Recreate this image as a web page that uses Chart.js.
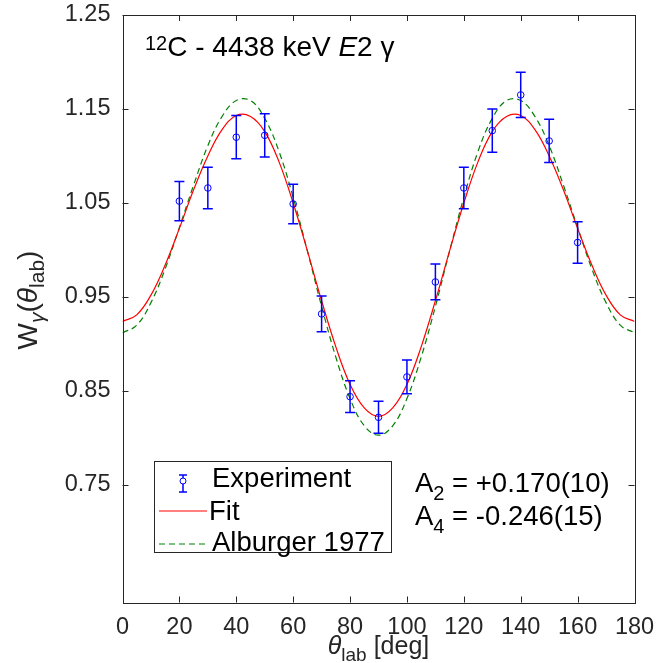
<!DOCTYPE html>
<html>
<head>
<meta charset="utf-8">
<script src="https://cdn.jsdelivr.net/npm/chart.js@4"></script>
<style>
  html, body { margin: 0; padding: 0; background: #fff; }
  #c { display: block; }
</style>
</head>
<body>
<canvas id="c" width="672" height="663"></canvas>
<script>
// dados
const curveTheta = [0, 5, 10, 15, 20, 25, 30, 35, 40, 45, 50, 55, 60, 65, 70, 75, 80, 85, 90,
  95, 100, 105, 110, 115, 120, 125, 130, 135, 140, 145, 150, 155, 160, 165, 170, 175, 180];
const fitW = [0.924, 0.931, 0.952, 0.984, 1.023, 1.064, 1.100, 1.128, 1.143, 1.142, 1.126, 1.094, 1.050,
  0.999, 0.946, 0.897, 0.857, 0.832, 0.823, 0.832, 0.857, 0.897, 0.946, 0.999, 1.050, 1.094, 1.126,
  1.142, 1.143, 1.128, 1.100, 1.064, 1.023, 0.984, 0.952, 0.931, 0.924];
const alburgerW = [0.912, 0.920, 0.944, 0.980, 1.024, 1.069, 1.111, 1.142, 1.159, 1.159, 1.140, 1.105, 1.056,
  0.999, 0.940, 0.886, 0.842, 0.813, 0.803, 0.813, 0.842, 0.886, 0.940, 0.999, 1.056, 1.105, 1.140,
  1.159, 1.159, 1.142, 1.111, 1.069, 1.024, 0.980, 0.944, 0.920, 0.912];

const expTheta = [20, 30, 40, 50, 60, 70, 80, 90, 100, 110, 120, 130, 140, 150, 160];
const expW = [1.052, 1.066, 1.120, 1.122, 1.049, 0.932, 0.844, 0.822, 0.865, 0.966, 1.066, 1.127, 1.165, 1.116, 1.008];
const expErr = [0.021, 0.022, 0.023, 0.023, 0.021, 0.019, 0.017, 0.017, 0.018, 0.019, 0.022, 0.023, 0.024, 0.023, 0.022];

const xTicks = [0, 20, 40, 60, 80, 100, 120, 140, 160, 180];
const yTicks = [0.75, 0.85, 0.95, 1.05, 1.15, 1.25];

const FONT = '"Liberation Sans", Arial, Helvetica, sans-serif';
const AXIS_COLOR = '#262626';

function toPoints(xs, ys) {
  return xs.map((x, i) => ({ x: x, y: ys[i] }));
}

// texto com sub/sobrescritos: partes {t, size, dy, italic}
function richWidth(ctx, parts) {
  let w = 0;
  parts.forEach(p => {
    ctx.font = (p.italic ? 'italic ' : '') + p.size + 'px ' + FONT;
    w += ctx.measureText(p.t).width;
  });
  return w;
}
function drawRich(ctx, x, y, parts, align) {
  let cx = x;
  if (align === 'center') cx = x - richWidth(ctx, parts) / 2;
  ctx.textBaseline = 'alphabetic';
  ctx.textAlign = 'left';
  parts.forEach(p => {
    ctx.font = (p.italic ? 'italic ' : '') + p.size + 'px ' + FONT;
    ctx.fillText(p.t, cx, y + (p.dy || 0));
    cx += ctx.measureText(p.t).width;
  });
}

// barras de erro, moldura, rótulos e legenda
const decorPlugin = {
  id: 'decor',
  afterDatasetsDraw(chart) {
    const ctx = chart.ctx;
    const xs = chart.scales.x, ys = chart.scales.y;
    ctx.save();
    ctx.strokeStyle = '#0000ff';
    ctx.lineWidth = 1.5;
    expTheta.forEach((t, i) => {
      const px = xs.getPixelForValue(t);
      const top = ys.getPixelForValue(expW[i] + expErr[i]);
      const bot = ys.getPixelForValue(expW[i] - expErr[i]);
      ctx.beginPath();
      ctx.moveTo(px, top); ctx.lineTo(px, bot);
      ctx.moveTo(px - 5, top); ctx.lineTo(px + 5, top);
      ctx.moveTo(px - 5, bot); ctx.lineTo(px + 5, bot);
      ctx.stroke();
    });
    ctx.restore();
  },
  afterDraw(chart) {
    const ctx = chart.ctx;
    const a = chart.chartArea;
    const xs = chart.scales.x, ys = chart.scales.y;
    ctx.save();

    // moldura com ticks para dentro
    ctx.strokeStyle = AXIS_COLOR;
    ctx.lineWidth = 1;
    ctx.strokeRect(Math.round(a.left) + 0.5, Math.round(a.top) + 0.5,
      Math.round(a.right - a.left), Math.round(a.bottom - a.top));
    const tl = 6;
    ctx.beginPath();
    xTicks.forEach(v => {
      const px = Math.round(xs.getPixelForValue(v)) + 0.5;
      ctx.moveTo(px, a.bottom); ctx.lineTo(px, a.bottom - tl);
      ctx.moveTo(px, a.top); ctx.lineTo(px, a.top + tl);
    });
    yTicks.forEach(v => {
      const py = Math.round(ys.getPixelForValue(v)) + 0.5;
      ctx.moveTo(a.left, py); ctx.lineTo(a.left + tl, py);
      ctx.moveTo(a.right, py); ctx.lineTo(a.right - tl, py);
    });
    ctx.stroke();

    ctx.fillStyle = AXIS_COLOR;
    // título do eixo x
    drawRich(ctx, (a.left + a.right) / 2, 654, [
      { t: 'θ', size: 25, italic: true },
      { t: 'lab', size: 19, dy: 7 },
      { t: ' [deg]', size: 25 }
    ], 'center');

    // título do eixo y (rotacionado)
    ctx.save();
    ctx.translate(37, 300);
    ctx.rotate(-Math.PI / 2);
    drawRich(ctx, 0, 0, [
      { t: 'W', size: 28 },
      { t: 'γ', size: 21, italic: true, dy: 7 },
      { t: '(', size: 28 },
      { t: 'θ', size: 28, italic: true },
      { t: 'lab', size: 21, dy: 7 },
      { t: ')', size: 28 }
    ], 'center');
    ctx.restore();

    ctx.fillStyle = '#000';
    // anotações
    drawRich(ctx, 145, 56, [
      { t: '12', size: 20, dy: -6 },
      { t: 'C - 4438 keV ', size: 28 },
      { t: 'E', size: 28, italic: true },
      { t: '2 γ', size: 28 }
    ]);
    drawRich(ctx, 415, 492, [
      { t: 'A', size: 27.5 },
      { t: '2', size: 20, dy: 8 },
      { t: ' = +0.170(10)', size: 27.5 }
    ]);
    drawRich(ctx, 415, 524.5, [
      { t: 'A', size: 27.5 },
      { t: '4', size: 20, dy: 8 },
      { t: ' = -0.246(15)', size: 27.5 }
    ]);

    // legenda
    ctx.fillStyle = '#fff';
    ctx.fillRect(154, 461, 237, 91);
    ctx.strokeStyle = AXIS_COLOR;
    ctx.lineWidth = 1;
    ctx.strokeRect(154.5, 461.5, 237, 91);

    ctx.strokeStyle = '#0000ff';
    ctx.lineWidth = 1.5;
    ctx.beginPath();
    ctx.moveTo(183, 475); ctx.lineTo(183, 492);
    ctx.moveTo(179, 475); ctx.lineTo(187, 475);
    ctx.moveTo(179, 492); ctx.lineTo(187, 492);
    ctx.stroke();
    ctx.lineWidth = 1;
    ctx.beginPath();
    ctx.arc(183, 481, 3, 0, Math.PI * 2);
    ctx.fillStyle = '#fff';
    ctx.fill();
    ctx.stroke();

    ctx.strokeStyle = '#ff0000';
    ctx.beginPath();
    ctx.moveTo(159, 511); ctx.lineTo(207, 511);
    ctx.stroke();

    ctx.strokeStyle = '#008000';
    ctx.setLineDash([6, 4]);
    ctx.beginPath();
    ctx.moveTo(159, 544); ctx.lineTo(207, 544);
    ctx.stroke();
    ctx.setLineDash([]);

    ctx.fillStyle = '#000';
    ctx.font = '27.5px ' + FONT;
    ctx.textAlign = 'left';
    ctx.textBaseline = 'alphabetic';
    ctx.fillText('Experiment', 212, 487);
    ctx.fillText('Fit', 209, 520);
    ctx.fillText('Alburger 1977', 212, 551);

    ctx.restore();
  }
};

const ctx = document.getElementById('c').getContext('2d');
const chart = new Chart(ctx, {
  type: 'scatter',
  data: {
    datasets: [{
      label: 'Experiment',
      data: toPoints(expTheta, expW),
      showLine: false,
      pointRadius: 3.3,
      pointStyle: 'circle',
      pointBorderColor: '#0000ff',
      pointBackgroundColor: 'rgba(0,0,0,0)',
      pointBorderWidth: 1
    }, {
      label: 'Fit',
      data: toPoints(curveTheta, fitW),
      showLine: true,
      borderColor: '#ff0000',
      borderWidth: 1.2,
      pointRadius: 0,
      tension: 0.4
    }, {
      label: 'Alburger 1977',
      data: toPoints(curveTheta, alburgerW),
      showLine: true,
      borderColor: '#008000',
      borderWidth: 1.2,
      borderDash: [6, 4],
      pointRadius: 0,
      tension: 0.4
    }]
  },
  options: {
    responsive: false,
    animation: false,
    devicePixelRatio: 1,
    layout: { padding: { top: 15, right: 37.5, left: 0, bottom: 0 } },
    plugins: { legend: { display: false }, tooltip: { enabled: false } },
    scales: {
      x: {
        type: 'linear',
        min: 0,
        max: 180,
        grid: { display: false, drawTicks: false },
        border: { display: false },
        afterBuildTicks: s => { s.ticks = xTicks.map(v => ({ value: v })); },
        afterFit: s => { s.height = 60.5; s.paddingLeft = 0; s.paddingRight = 0; },
        ticks: {
          autoSkip: false,
          maxRotation: 0,
          padding: 11,
          color: AXIS_COLOR,
          font: { family: FONT, size: 23.5 }
        }
      },
      y: {
        type: 'linear',
        min: 0.625,
        max: 1.25,
        grid: { display: false, drawTicks: false },
        border: { display: false },
        afterBuildTicks: s => { s.ticks = yTicks.map(v => ({ value: v })); },
        afterFit: s => { s.width = 122.5; s.paddingTop = 0; s.paddingBottom = 0; },
        ticks: {
          padding: 12,
          color: AXIS_COLOR,
          font: { family: FONT, size: 23.5 },
          callback: v => v.toFixed(2)
        }
      }
    }
  },
  plugins: [decorPlugin]
});
</script>
</body>
</html>
